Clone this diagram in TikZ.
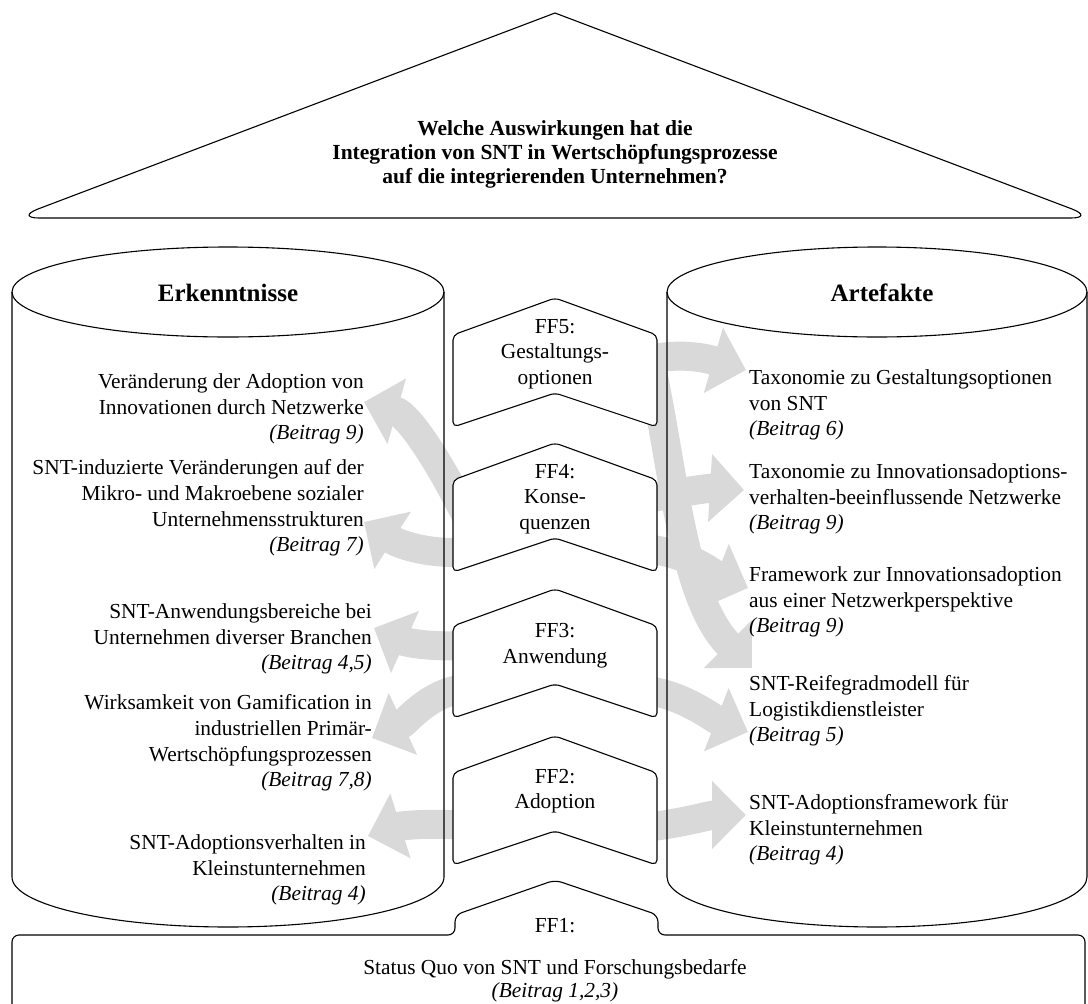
\documentclass[tikz,border=0pt]{standalone}
\usepackage{fontspec}
\setmainfont{Liberation Serif}
\usetikzlibrary{arrows.meta}
\definecolor{bandgrey}{RGB}{217,217,217}

\begin{document}
\begin{tikzpicture}[x=1pt,y=-1pt,
  outline/.style={draw=black, line width=1.1pt},
  band/.style={draw=bandgrey, line width=29pt, -{Triangle[length=34pt,width=66pt]}},
  txt/.style={inner sep=0pt, font=\fontsize{21.4}{25.6}\selectfont},
  lefttxt/.style={txt, align=right, anchor=east},
  righttxt/.style={txt, align=left, anchor=west},
  boxtxt/.style={txt, align=center},
  heading/.style={inner sep=0pt, font=\fontsize{25}{30}\selectfont\bfseries},
  ffchevron/.pic={
    \draw[outline, fill=white, rounded corners=5pt]
      (-102,0) -- (0,-37) -- (102,0) -- (102,92) -- (0,58) -- (-102,92) -- cycle;
  }
]
\useasboundingbox (0,0) rectangle (1088,1004);
\clip (0,0) rectangle (1088,1004);

% roof with the research question
\draw[outline] (555,13) -- (1072,209) .. controls (1085,214) and (1083,218) .. (1071,218)
  -- (39,218) .. controls (27,218) and (25,214) .. (38,209) -- cycle;
\node[inner sep=0pt, align=center, font=\fontsize{21.5}{24}\selectfont\bfseries] (question) at (555,154)
  {Welche Auswirkungen hat die\\Integration von SNT in Wertschöpfungsprozesse\\auf die integrierenden Unternehmen?};

% end points of the grey connectors
\coordinate (a1s) at (478,540); \coordinate (a1t) at (364,402);
\coordinate (a2s) at (470,552); \coordinate (a2t) at (364,522);
\coordinate (a3s) at (470,645); \coordinate (a3t) at (374,628);
\coordinate (a4s) at (470,688); \coordinate (a4t) at (372,738);
\coordinate (a5s) at (470,826); \coordinate (a5t) at (368,836);
\coordinate (r1s) at (640,362); \coordinate (r1t) at (746,370);
\coordinate (r2s) at (640,500); \coordinate (r2t) at (744,490);
\coordinate (r3s) at (640,548); \coordinate (r3t) at (748,588);
\coordinate (r6s) at (650,360); \coordinate (r6t) at (752,668);
\coordinate (r4s) at (640,690); \coordinate (r4t) at (748,732);
\coordinate (r5s) at (640,828); \coordinate (r5t) at (746,815);

% grey connectors to the findings
\draw[band] (a1s) .. controls +(-33,-70) and +(46,13) .. (a1t);
\draw[band] (a2s) .. controls +(-40,3) and +(36,23) .. (a2t);
\draw[band] (a3s) .. controls +(-40,3) and +(31,14) .. (a3t);
\draw[band] (a4s) .. controls +(-40,2) and +(35,-16) .. (a4t);
\draw[band] (a5s) .. controls +(-40,-4) and +(32,-10) .. (a5t);
% grey connectors to the artefacts
\draw[band] (r6s) .. controls +(24,110) and +(-70,-70) .. (r6t);
\draw[band] (r1s) .. controls +(40,-12) and +(-34,-10) .. (r1t);
\draw[band] (r2s) .. controls +(40,-8) and +(-34,-2) .. (r2t);
\draw[band] (r3s) .. controls +(50,4) and +(-33,-13) .. (r3t);
\draw[band] (r4s) .. controls +(40,2) and +(-36,-14) .. (r4t);
\draw[band] (r5s) .. controls +(40,-4) and +(-36,0) .. (r5t);

% cylinders
\draw[outline] (12,292) -- (12,877) arc[start angle=180, end angle=0, x radius=216, y radius=50] -- (444,292);
\draw[outline] (228,292) ellipse[x radius=216, y radius=45];
\draw[outline] (667,292) -- (667,877) arc[start angle=180, end angle=0, x radius=210, y radius=50] -- (1087,292);
\draw[outline] (877,292) ellipse[x radius=210, y radius=45];

\node[heading] (erk) at (228,293) {Erkenntnisse};
\node[heading] (art) at (882,293) {Artefakte};

% research question chevrons
\pic at (555,335) {ffchevron};
\pic at (555,480) {ffchevron};
\pic at (555,626) {ffchevron};
\pic at (555,773) {ffchevron};

\node[boxtxt] (ff5) at (555,354) {FF5:\\Gestaltungs-\\optionen};
\node[boxtxt] (ff4) at (555,499) {FF4:\\Konse-\\quenzen};
\node[boxtxt] (ff3) at (555,646) {FF3:\\Anwendung};
\node[boxtxt] (ff2) at (555,791) {FF2:\\Adoption};

% foundation FF1
\draw[outline, rounded corners=7pt] (1085,1030) -- (1085,935) -- (658,935) -- (658,915) -- (555,880)
  -- (455,915) -- (455,935) -- (12,935) -- (12,1030);
\node[boxtxt] (ff1) at (555,926) {FF1:};
\node[txt, align=center, font=\fontsize{21.4}{23}\selectfont] (status) at (555,981)
  {Status Quo von SNT und Forschungsbedarfe\\\textit{(Beitrag 1,2,3)}};

% findings
\node[lefttxt] (e1) at (364,409) {Veränderung der Adoption von\\Innovationen durch Netzwerke\\\textit{(Beitrag 9)}};
\node[lefttxt] (e2) at (364,508) {SNT-induzierte Veränderungen auf der\\Mikro- und Makroebene sozialer\\Unternehmensstrukturen\\\textit{(Beitrag 7)}};
\node[lefttxt] (e3) at (372,639) {SNT-Anwendungsbereiche bei\\Unternehmen diverser Branchen\\\textit{(Beitrag 4,5)}};
\node[lefttxt] (e4) at (372,743) {Wirksamkeit von Gamification in\\industriellen Primär-\\Wertschöpfungsprozessen\\\textit{(Beitrag 7,8)}};
\node[lefttxt] (e5) at (366,870) {SNT-Adoptionsverhalten in\\Kleinstunternehmen\\\textit{(Beitrag 4)}};

% artefacts
\node[righttxt] (t1) at (749,405) {Taxonomie zu Gestaltungsoptionen\\von SNT\\\textit{(Beitrag 6)}};
\node[righttxt] (t2) at (749,499) {Taxonomie zu Innovationsadoptions-\\verhalten-beeinflussende Netzwerke\\\textit{(Beitrag 9)}};
\node[righttxt] (t3) at (749,602) {Framework zur Innovationsadoption\\aus einer Netzwerkperspektive\\\textit{(Beitrag 9)}};
\node[righttxt] (t4) at (749,711) {SNT-Reifegradmodell für\\Logistikdienstleister\\\textit{(Beitrag 5)}};
\node[righttxt] (t5) at (749,830) {SNT-Adoptionsframework für\\Kleinstunternehmen\\\textit{(Beitrag 4)}};
\end{tikzpicture}
\end{document}
